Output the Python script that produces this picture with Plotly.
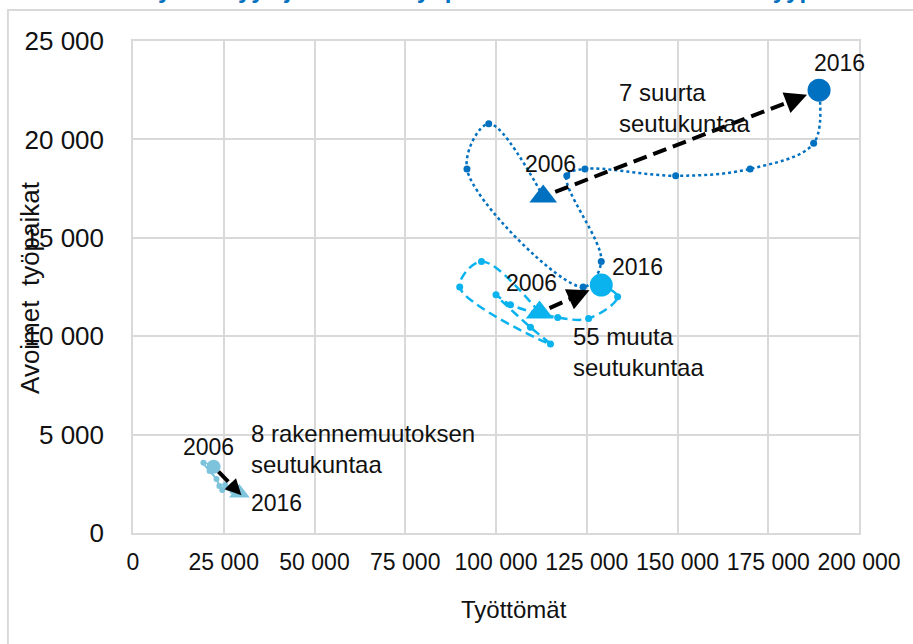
import math
import plotly.graph_objects as go

# ---------------- data ----------------
years = list(range(2006, 2017))

suuret_x = [113000, 98000, 92000, 124000, 129000, 119500, 124500, 149500, 170000, 187500, 189000]
suuret_y = [17100, 20800, 18500, 12500, 13800, 18150, 18500, 18150, 18500, 19800, 22500]

muut_x = [112000, 96000, 90000, 115000, 109500, 100000, 104000, 117000, 125500, 133500, 129000]
muut_y = [11200, 13800, 12500, 9600, 10450, 12100, 11600, 10950, 10900, 12000, 12600]

rakenne_x = [22200, 19400, 21100, 23000, 23800, 24600, 25400, 26300, 27400, 28200, 29300]
rakenne_y = [3370, 3570, 3150, 2740, 2390, 2190, 2440, 2290, 2130, 1980, 2030]

x_ticks = [0, 25000, 50000, 75000, 100000, 125000, 150000, 175000, 200000]
y_ticks = [0, 5000, 10000, 15000, 20000, 25000]

# ---------------- layout constants ----------------
W, H = 913, 644
L_M, R_M, T_M, B_M = 133, 47, 41, 111
PW, PH = W - L_M - R_M, H - T_M - B_M
XMAX, YMAX = 200000, 25000
PX_X, PX_Y = PW / XMAX, PH / YMAX

C_DARK = "#0070C0"
C_MID = "#0BB3EE"
C_LIGHT = "#7DC3DC"
FONT = "Liberation Sans, Arial, sans-serif"
TXT = "#111111"


def px2paper(px, py):
    return (px - L_M) / PW, (H - B_M - py) / PH


fig = go.Figure()


def add_series(xs, ys, color, dash, width, msize, first_sym, first_size, last_sym, last_size):
    fig.add_trace(go.Scatter(
        x=xs, y=ys, mode="lines+markers",
        line=dict(color=color, width=width, dash=dash, shape="spline", smoothing=1.0),
        marker=dict(color=color, size=msize, symbol="circle"),
        hoverinfo="skip", showlegend=False))
    fig.add_trace(go.Scatter(
        x=[xs[0]], y=[ys[0]], mode="markers",
        marker=dict(color=color, size=first_size, symbol=first_sym),
        hoverinfo="skip", showlegend=False))
    fig.add_trace(go.Scatter(
        x=[xs[-1]], y=[ys[-1]], mode="markers",
        marker=dict(color=color, size=last_size, symbol=last_sym),
        hoverinfo="skip", showlegend=False))


add_series(suuret_x, suuret_y, C_DARK, "dot", 2.5, 7, "triangle-up", 24, "circle", 23)
add_series(muut_x, muut_y, C_MID, "9px,5px", 2.5, 7, "triangle-up", 24, "circle", 23)
add_series(rakenne_x, rakenne_y, C_LIGHT, "solid", 2.0, 6, "circle", 14, "triangle-up", 18)


def add_arrow(xs, ys, gap_start, gap_end, lw=4, head=1.1, headlen=9, dash="14px,7px"):
    x0, y0, x1, y1 = xs[0], ys[0], xs[-1], ys[-1]
    dxp, dyp = (x1 - x0) * PX_X, (y1 - y0) * PX_Y
    length = math.hypot(dxp, dyp)
    t0 = gap_start / length
    t1 = 1 - gap_end / length
    th = t1 - headlen / length
    sx, sy = x0 + (x1 - x0) * t0, y0 + (y1 - y0) * t0
    ex, ey = x0 + (x1 - x0) * t1, y0 + (y1 - y0) * t1
    hx, hy = x0 + (x1 - x0) * th, y0 + (y1 - y0) * th
    fig.add_trace(go.Scatter(
        x=[sx, hx], y=[sy, hy], mode="lines",
        line=dict(color="black", width=lw, dash=dash),
        hoverinfo="skip", showlegend=False))
    fig.add_annotation(x=ex, y=ey, ax=hx, ay=hy, xref="x", yref="y", axref="x", ayref="y",
                       text="", showarrow=True, arrowhead=2, arrowsize=head, arrowwidth=lw,
                       arrowcolor="black", standoff=0, startstandoff=0)


add_arrow(suuret_x, suuret_y, 13, 13)
add_arrow(muut_x, muut_y, 11, 13)
add_arrow(rakenne_x, rakenne_y, 7, -3, lw=4, head=0.8, headlen=7, dash="14px,3px")

# ---------------- text labels ----------------
def label(x, y, text, size=23, xanchor="center", align="center"):
    fig.add_annotation(x=x, y=y, xref="x", yref="y", text=text, showarrow=False,
                       xanchor=xanchor, yanchor="middle", align=align,
                       font=dict(family=FONT, size=size, color=TXT))


label(194500, 23900, str(years[-1]))
label(133300, 21600, "7 suurta<br>seutukuntaa", size=24, xanchor="left", align="left")
label(115000, 18750, str(years[0]))
label(138900, 13500, str(years[-1]))
label(109900, 12700, str(years[0]))
label(120600, 9200, "55 muuta<br>seutukuntaa", size=24, xanchor="left", align="left")
label(32000, 4250, "8 rakennemuutoksen<br>seutukuntaa", size=24, xanchor="left", align="left")
label(20800, 4350, str(years[0]))
label(39600, 1520, str(years[-1]))

# axis titles
xt, yt = px2paper(518, 609)
fig.add_annotation(x=xt, y=yt, xref="paper", yref="paper", text="Työttömät", showarrow=False,
                   xanchor="center", yanchor="middle", font=dict(family=FONT, size=24, color=TXT))
xt, yt = px2paper(29, 287)
fig.add_annotation(x=xt, y=yt, xref="paper", yref="paper", text="Avoimet  työpaikat", showarrow=False,
                   textangle=-90, xanchor="center", yanchor="middle",
                   font=dict(family=FONT, size=26, color=TXT))

# cropped title at the very top (cut off in the original picture)
xt, yt = px2paper(456, 5)
fig.add_annotation(x=xt, y=yt, xref="paper", yref="paper",
                   text="<b>Kuvio 4. Työttömyys ja avoimet työpaikat kolmessa seutukuntatyypissä</b>",
                   showarrow=False, xanchor="center", yanchor="bottom",
                   font=dict(family=FONT, size=24, color=C_DARK))

# outer frame
fx0, fy0 = px2paper(6.7, 10)
fx1, fy1 = px2paper(W + 10, H + 10)
fig.add_shape(type="rect", xref="paper", yref="paper", x0=fx0, y0=fy1, x1=fx1, y1=fy0,
              line=dict(color="#D9D9D9", width=2), fillcolor="rgba(0,0,0,0)", layer="below")

GRID = "#D9D9D9"
fig.update_layout(
    width=W, height=H,
    margin=dict(l=L_M, r=R_M, t=T_M, b=B_M, pad=0),
    paper_bgcolor="white", plot_bgcolor="white",
    separators=". ",
    showlegend=False,
    xaxis=dict(range=[0, XMAX], tickvals=x_ticks, tickformat=",d", tickangle=0,
               showgrid=True, gridcolor=GRID, gridwidth=1.5, zeroline=False,
               showline=True, linecolor=GRID, linewidth=1.5, mirror=True,
               ticks="", ticklabelstandoff=8,
               tickfont=dict(family=FONT, size=23, color=TXT), fixedrange=True),
    yaxis=dict(range=[0, YMAX], tickvals=y_ticks, tickformat=",d",
               showgrid=True, gridcolor=GRID, gridwidth=1.5, zeroline=False,
               showline=True, linecolor=GRID, linewidth=1.5, mirror=True,
               ticks="", ticklabelstandoff=22,
               tickfont=dict(family=FONT, size=26, color=TXT), fixedrange=True),
)

fig.write_html("out.html", config={"displayModeBar": False},
               post_script="document.body.style.margin='0';document.body.style.overflow='hidden';")
